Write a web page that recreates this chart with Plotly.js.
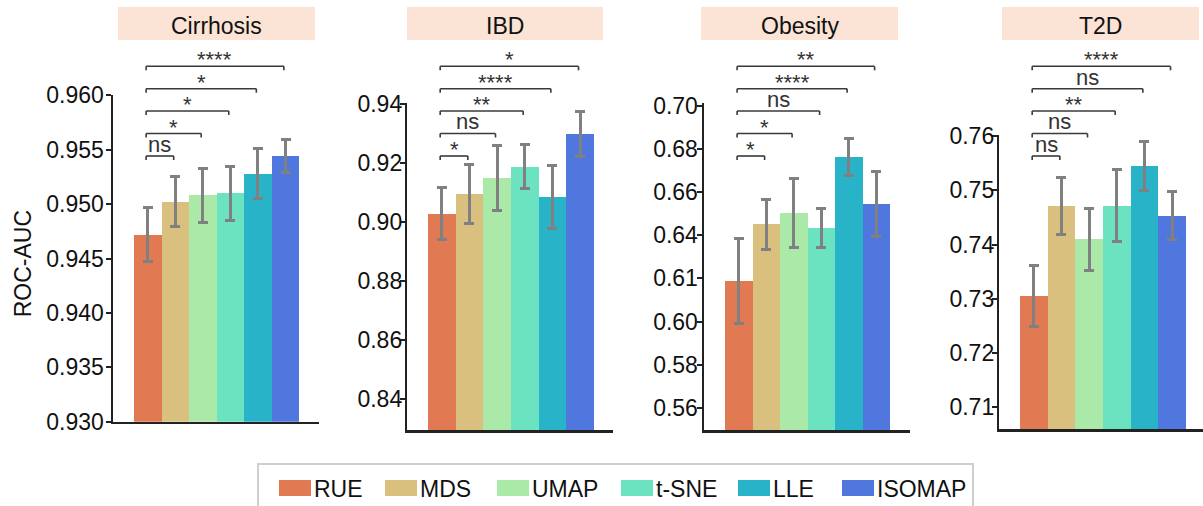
<!DOCTYPE html>
<html><head><meta charset="utf-8">
<script src="https://cdn.plot.ly/plotly-3.0.1.min.js"></script>
<style>html,body{margin:0;padding:0;background:#fff}#chart{width:1203px;height:506px}</style>
</head><body><div id="chart"></div>
<script>
// ---------------- data ----------------
const methods = ['RUE', 'MDS', 'UMAP', 't-SNE', 'LLE', 'ISOMAP'];
const datasets = ['Cirrhosis', 'IBD', 'Obesity', 'T2D'];

const cirrhosisMean = [0.9472, 0.9502, 0.9508, 0.9510, 0.9528, 0.9544];
const cirrhosisErr  = [0.0025, 0.0023, 0.0025, 0.0025, 0.0023, 0.0015];
const ibdMean = [0.9028, 0.9095, 0.9149, 0.9187, 0.9085, 0.9298];
const ibdErr  = [0.0088, 0.0100, 0.0111, 0.0075, 0.0108, 0.0076];
const obesityMean = [0.6188, 0.6452, 0.6503, 0.6434, 0.6763, 0.6545];
const obesityErr  = [0.0198, 0.0116, 0.0160, 0.0090, 0.0084, 0.0149];
const t2dMean = [0.7305, 0.7471, 0.7410, 0.7472, 0.7545, 0.7453];
const t2dErr  = [0.0056, 0.0052, 0.0057, 0.0067, 0.0045, 0.0044];

// significance of RUE vs method (index 1..5)
const cirrhosisSig = ['ns', '*', '*', '*', '****'];
const ibdSig = ['*', 'ns', '**', '****', '*'];
const obesitySig = ['*', '*', 'ns', '****', '**'];
const t2dSig = ['ns', 'ns', '**', 'ns', '****'];

// tick values and labels
const cirrhosisTicks = [0.930, 0.935, 0.940, 0.945, 0.950, 0.955, 0.960];
const cirrhosisTickText = ['0.930', '0.935', '0.940', '0.945', '0.950', '0.955', '0.960'];
const ibdTicks = [0.84, 0.86, 0.88, 0.90, 0.92, 0.94];
const ibdTickText = ['0.84', '0.86', '0.88', '0.90', '0.92', '0.94'];
const obesityTicks = [0.56, 0.58, 0.60, 0.62, 0.64, 0.66, 0.68, 0.70];
const obesityTickText = ['0.56', '0.58', '0.60', '0.61', '0.64', '0.66', '0.68', '0.70'];
const t2dTicks = [0.71, 0.72, 0.73, 0.74, 0.75, 0.76];
const t2dTickText = ['0.71', '0.72', '0.73', '0.74', '0.75', '0.76'];

const yRanges = [[0.930, 0.960], [0.8296, 0.9402], [0.5497, 0.7015], [0.70595, 0.7602]];

// ---------------- styles / layout geometry (pixels) ----------------
const colors = ['#E17A52', '#D9C07E', '#ABE9A8', '#6BE3C0', '#28B3C8', '#4F77DD'];
const W = 1203, H = 506;
const FONT = 'Liberation Sans, Arial, Helvetica, sans-serif';
const geom = [
  {axisX: 113,   top: 95.3,  bottom: 421.7, barL: 134,  barR: 299.3, box: [118, 315],  stand: -3},
  {axisX: 407.3, top: 103.3, bottom: 430,   barL: 428,  barR: 594,   box: [407, 603],  stand: -7},
  {axisX: 704,   top: 102.7, bottom: 430,   barL: 725,  barR: 890,   box: [701, 898],  stand: -6},
  {axisX: 999.3, top: 135,   bottom: 429.3, barL: 1020, barR: 1186,  box: [1002, 1199], stand: -7}
];
const bracketY = [156, 133.5, 111, 88.7, 66.3];
const legendX = [279, 385, 497, 621, 738, 842];

const means = [cirrhosisMean, ibdMean, obesityMean, t2dMean];
const errs = [cirrhosisErr, ibdErr, obesityErr, t2dErr];
const sigs = [cirrhosisSig, ibdSig, obesitySig, t2dSig];
const ticks = [cirrhosisTicks, ibdTicks, obesityTicks, t2dTicks];
const tickTexts = [cirrhosisTickText, ibdTickText, obesityTickText, t2dTickText];

const px2x = p => p / W;
const px2y = p => 1 - p / H;

const data = [];
const layout = {
  width: W, height: H,
  margin: {l: 0, r: 0, t: 0, b: 0},
  paper_bgcolor: '#fff', plot_bgcolor: 'rgba(0,0,0,0)',
  showlegend: false,
  bargap: 0,
  font: {family: FONT, color: '#111'},
  shapes: [], annotations: []
};

datasets.forEach((name, i) => {
  const g = geom[i];
  const sfx = i === 0 ? '' : String(i + 1);
  const cw = (g.barR - g.barL) / methods.length;
  const right = Math.min(g.axisX + 206, W);
  const r0 = -0.5 - (g.barL - g.axisX) / cw;
  const r1 = r0 + (right - g.axisX) / cw;
  data.push({
    type: 'bar', x: methods, y: means[i], xaxis: 'x' + sfx, yaxis: 'y' + sfx,
    marker: {color: colors, line: {width: 0}},
    width: 1,
    error_y: {type: 'data', array: errs[i], visible: true, color: '#808080', thickness: 3, width: 5},
    hoverinfo: 'x+y'
  });
  layout['xaxis' + sfx] = {
    domain: [px2x(g.axisX), px2x(right)], range: [r0, r1], anchor: 'y' + sfx,
    showticklabels: false, ticks: '', showgrid: false, zeroline: false,
    showline: true, linecolor: '#222', linewidth: 2.5, fixedrange: true
  };
  layout['yaxis' + sfx] = {
    domain: [px2y(g.bottom), px2y(g.top)], range: yRanges[i], anchor: 'x' + sfx,
    tickmode: 'array', tickvals: ticks[i], ticktext: tickTexts[i],
    ticks: 'outside', ticklen: 5, tickwidth: 2, tickcolor: '#222',
    ticklabelstandoff: g.stand,
    tickfont: {size: 23, color: '#111', family: FONT},
    showgrid: false, zeroline: false,
    showline: true, linecolor: '#222', linewidth: 2.5, fixedrange: true
  };
  // title box
  layout.shapes.push({type: 'rect', xref: 'paper', yref: 'paper',
    x0: px2x(g.box[0]), x1: px2x(g.box[1]), y0: px2y(40), y1: px2y(7),
    fillcolor: '#FBE3D5', line: {width: 0}, layer: 'below'});
  layout.annotations.push({xref: 'paper', yref: 'paper', x: px2x((g.box[0] + g.box[1]) / 2), y: px2y(26),
    xanchor: 'center', yanchor: 'middle', text: name, showarrow: false, borderpad: 0,
    font: {size: 23, color: '#111', family: FONT}});
  // significance brackets (RUE vs each other method)
  const xd = idx => (idx - 0.06 - r0) / (r1 - r0);
  sigs[i].forEach((lab, k) => {
    const yl = bracketY[k];
    const xa = xd(0), xb = xd(k + 1);
    const ln = {color: '#3a3a3a', width: 1.6};
    layout.shapes.push({type: 'line', xref: 'x' + sfx + ' domain', yref: 'paper', x0: xa, x1: xb, y0: px2y(yl), y1: px2y(yl), line: ln});
    layout.shapes.push({type: 'line', xref: 'x' + sfx + ' domain', yref: 'paper', x0: xa, x1: xa, y0: px2y(yl), y1: px2y(yl + 4), line: ln});
    layout.shapes.push({type: 'line', xref: 'x' + sfx + ' domain', yref: 'paper', x0: xb, x1: xb, y0: px2y(yl), y1: px2y(yl + 4), line: ln});
    const isNs = lab === 'ns';
    layout.annotations.push({xref: 'x' + sfx + ' domain', yref: 'paper', x: (xa + xb) / 2,
      y: px2y(isNs ? yl - 11.5 : yl - 6.5), xanchor: 'center', yanchor: 'middle',
      text: lab, showarrow: false, borderpad: 0,
      font: {size: 22, color: '#333', family: FONT}});
  });
});

// y-axis label
layout.annotations.push({xref: 'paper', yref: 'paper', x: px2x(23.3), y: px2y(264),
  xanchor: 'center', yanchor: 'middle', textangle: -90, text: 'ROC-AUC', showarrow: false,
  font: {size: 23, color: '#111', family: FONT}});

// legend (drawn manually to match the wide swatches)
layout.shapes.push({type: 'rect', xref: 'paper', yref: 'paper',
  x0: px2x(258), x1: px2x(973), y0: px2y(530), y1: px2y(464),
  fillcolor: '#fff', line: {color: '#cfcfcf', width: 2}, layer: 'below'});
methods.forEach((m, k) => {
  const x = legendX[k];
  layout.shapes.push({type: 'rect', xref: 'paper', yref: 'paper',
    x0: px2x(x), x1: px2x(x + 32), y0: px2y(496), y1: px2y(480),
    fillcolor: colors[k], line: {width: 0}});
  layout.annotations.push({xref: 'paper', yref: 'paper', x: px2x(x + 34), y: px2y(488.7),
    xanchor: 'left', yanchor: 'middle', text: m, showarrow: false, borderpad: 0,
    font: {size: 23, color: '#111', family: FONT}});
});

Plotly.newPlot('chart', data, layout, {displayModeBar: false, staticPlot: true});
</script>
</body></html>
